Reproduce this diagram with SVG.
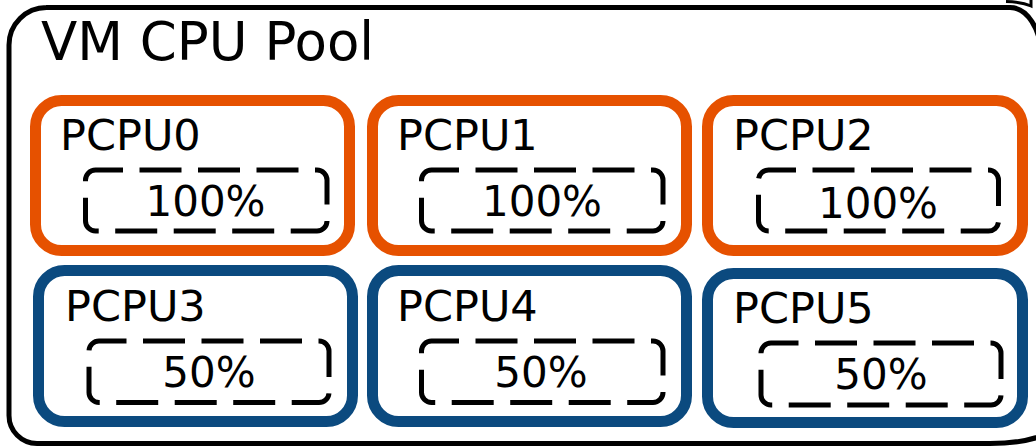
<svg xmlns="http://www.w3.org/2000/svg" width="1036" height="447" viewBox="0 0 1036 447">
  <style>
    text { font-family: "DejaVu Sans", Verdana, sans-serif; fill: #000; }
    .title { font-size: 53px; }
    .label { font-size: 43px; }
    .share { font-size: 42px; text-anchor: middle; }
    .frame { fill: #fff; stroke: #000; stroke-width: 5; }
    .hot { fill: #fff; stroke: #e65100; stroke-width: 11; }
    .cold { fill: #fff; stroke: #0b4a7f; stroke-width: 11; }
    .quota { fill: none; stroke: #000; stroke-width: 5; stroke-dasharray: 42 16.5; stroke-dashoffset: 14.5; }
  </style>
  <rect width="1036" height="447" fill="#fff"/>

  <!-- pool frame; its right side runs past the edge -->
  <g id="pool">
    <path class="frame" d="M46 7.5 H1010 A31 48 0 0 1 1041 55.5 L1080 380 Q1080 443.5 990 443.5 H37 A28 28 0 0 1 9 415.5 V45 A37.5 37.5 0 0 1 46.5 7.5 Z"/>
    <path d="M1006 1.5 Q1022 2 1031 6 L1031 0" fill="none" stroke="#000" stroke-width="3"/>
    <text class="title" x="41" y="60">VM CPU Pool</text>
  </g>

  <g id="connectors"></g>

  <g id="pcpu0">
    <rect class="hot" x="35.5" y="100.5" width="314" height="150" rx="26"/>
    <text class="label" x="60" y="150">PCPU0</text>
    <rect class="quota" x="85.5" y="170" width="241.5" height="61" rx="10"/>
    <text class="share" x="205.5" y="216">100%</text>
  </g>
  <g id="pcpu1">
    <rect class="hot" x="372.5" y="100.5" width="314" height="150" rx="26"/>
    <text class="label" x="397" y="150">PCPU1</text>
    <rect class="quota" x="421.5" y="170" width="241.5" height="61" rx="10"/>
    <text class="share" x="542" y="216">100%</text>
  </g>
  <g id="pcpu2">
    <rect class="hot" x="707.5" y="100.5" width="315" height="150" rx="26"/>
    <text class="label" x="733" y="150">PCPU2</text>
    <rect class="quota" x="758.5" y="170" width="240" height="61" rx="10"/>
    <text class="share" x="878" y="218">100%</text>
  </g>
  <g id="pcpu3">
    <rect class="cold" x="38.5" y="270.5" width="314" height="151" rx="26"/>
    <text class="label" x="65" y="321">PCPU3</text>
    <rect class="quota" x="89" y="341" width="240" height="61.5" rx="10"/>
    <text class="share" x="209" y="387">50%</text>
  </g>
  <g id="pcpu4">
    <rect class="cold" x="372.5" y="270.5" width="314" height="151" rx="26"/>
    <text class="label" x="397" y="321">PCPU4</text>
    <rect class="quota" x="421.5" y="341" width="241.5" height="61.5" rx="10"/>
    <text class="share" x="541" y="387">50%</text>
  </g>
  <g id="pcpu5">
    <rect class="cold" x="707.5" y="273.5" width="315" height="149" rx="26"/>
    <text class="label" x="733" y="323">PCPU5</text>
    <rect class="quota" x="761" y="343" width="240" height="62" rx="10"/>
    <text class="share" x="881" y="389">50%</text>
  </g>
</svg>
